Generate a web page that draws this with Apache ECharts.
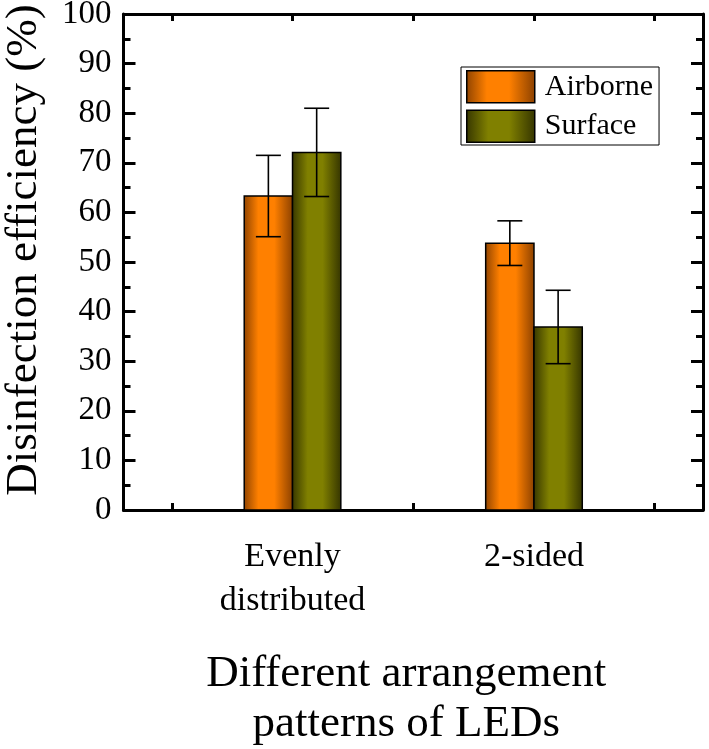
<!DOCTYPE html>
<html><head><meta charset="utf-8">
<script src="https://cdn.jsdelivr.net/npm/echarts@6/dist/echarts.min.js"></script>
<style>html,body{margin:0;padding:0;background:#fff}#c{width:709px;height:749px}</style>
</head><body><div id="c"></div>
<script>
// ---- data ----
const categories = ['Evenly\ndistributed', '2-sided'];
const categoryPositions = [1, 2];
const seriesNames = ['Airborne', 'Surface'];
const airborneValues = [63.3, 53.8];
const airborneErrors = [8.2, 4.5];
const surfaceValues = [72.1, 36.9];
const surfaceErrors = [8.9, 7.4];
const xTickValues = [0.5, 1, 1.5, 2, 2.5];
const yAxisTitle = 'Disinfection efficiency (%)';
const xAxisTitle = 'Different arrangement\npatterns of LEDs';

const FONT = 'Liberation Serif';
const orangeGrad = new echarts.graphic.LinearGradient(0, 0, 1, 0, [
  {offset: 0, color: '#8f4300'}, {offset: 0.3, color: '#ff8000'},
  {offset: 0.62, color: '#ff8000'}, {offset: 1, color: '#8a4000'}]);
const greenGrad = new echarts.graphic.LinearGradient(0, 0, 1, 0, [
  {offset: 0, color: '#363600'}, {offset: 0.32, color: '#808000'},
  {offset: 0.62, color: '#808000'}, {offset: 1, color: '#343400'}]);

function makeRender(offset, grad) {
  return function (params, api) {
    const x = api.value(0) + offset, y = api.value(1), e = api.value(2);
    const p0 = api.coord([x - 0.1, 0]);
    const p1 = api.coord([x + 0.1, y]);
    const top = api.coord([x, y + e]);
    const bot = api.coord([x, y - e]);
    const cap = 12.5;
    const ls = {stroke: '#000', lineWidth: 1.6};
    return {type: 'group', children: [
      {type: 'rect', shape: {x: p0[0], y: p1[1], width: p1[0] - p0[0], height: p0[1] - p1[1]},
       style: {fill: grad, stroke: '#000', lineWidth: 1.5}},
      {type: 'line', shape: {x1: top[0], y1: top[1], x2: bot[0], y2: bot[1]}, style: ls},
      {type: 'line', shape: {x1: top[0] - cap, y1: top[1], x2: top[0] + cap, y2: top[1]}, style: ls},
      {type: 'line', shape: {x1: bot[0] - cap, y1: bot[1], x2: bot[0] + cap, y2: bot[1]}, style: ls}
    ]};
  };
}

const axisLine = {show: true, onZero: false, lineStyle: {color: '#000', width: 3}};
const chart = echarts.init(document.getElementById('c'), null, {renderer: 'canvas'});
chart.setOption({
  animation: false,
  backgroundColor: '#fff',
  grid: {left: 123.5, right: 6, top: 14, bottom: 239, containLabel: false, outerBoundsMode: 'none'},
  legend: {
    orient: 'vertical', left: 461, top: 67,
    padding: [3, 6, 2, 5], itemGap: 6, itemWidth: 68, itemHeight: 32,
    borderColor: '#000', borderWidth: 1,
    textStyle: {fontFamily: FONT, fontSize: 30, color: '#000', padding: [0, 0, 0, 5]},
    data: [
      {name: seriesNames[0], icon: 'rect', itemStyle: {color: orangeGrad, borderColor: '#000', borderWidth: 1.5}},
      {name: seriesNames[1], icon: 'rect', itemStyle: {color: greenGrad, borderColor: '#000', borderWidth: 1.5}}
    ]
  },
  xAxis: [{
    type: 'value', min: 0.3, max: 2.7, position: 'bottom',
    axisLine: axisLine, splitLine: {show: false},
    axisTick: {show: true, inside: true, length: 7, lineStyle: {color: '#000', width: 3}, customValues: xTickValues},
    axisLabel: {customValues: categoryPositions, margin: 25, fontFamily: FONT, fontSize: 34, color: '#000', lineHeight: 44,
      formatter: function (v) { const i = categoryPositions.indexOf(v); return i >= 0 ? categories[i] : ''; }},
    name: xAxisTitle, nameLocation: 'middle', nameGap: 139, nameMoveOverlap: false,
    nameTextStyle: {fontFamily: FONT, fontSize: 45, color: '#000', lineHeight: 50, verticalAlign: 'top', padding: [0, 14, 0, 0]}
  }, {
    type: 'value', min: 0.3, max: 2.7, position: 'top',
    axisLine: axisLine, splitLine: {show: false},
    axisTick: {show: true, inside: true, length: 7, lineStyle: {color: '#000', width: 3}, customValues: xTickValues},
    axisLabel: {show: false}
  }],
  yAxis: [{
    type: 'value', min: 0, max: 100, interval: 10, position: 'left',
    axisLine: axisLine, splitLine: {show: false},
    axisTick: {show: true, inside: true, length: 12, lineStyle: {color: '#000', width: 3}},
    minorTick: {show: true, splitNumber: 2, length: 7, lineStyle: {color: '#000', width: 3}},
    axisLabel: {margin: 12, fontFamily: FONT, fontSize: 33, color: '#000'},
    name: yAxisTitle, nameLocation: 'middle', nameGap: 77, nameMoveOverlap: false,
    nameTextStyle: {fontFamily: FONT, fontSize: 45, color: '#000', padding: [0, 0, 0, 24]}
  }, {
    type: 'value', min: 0, max: 100, interval: 10, position: 'right',
    axisLine: axisLine, splitLine: {show: false},
    axisTick: {show: true, inside: true, length: 12, lineStyle: {color: '#000', width: 3}},
    minorTick: {show: true, splitNumber: 2, length: 7, lineStyle: {color: '#000', width: 3}},
    axisLabel: {show: false}
  }],
  series: [{
    name: seriesNames[0], type: 'custom', xAxisIndex: 0, yAxisIndex: 0,
    itemStyle: {color: orangeGrad, borderColor: '#000'},
    renderItem: makeRender(-0.1, orangeGrad),
    encode: {x: 0, y: 1},
    data: categoryPositions.map((p, i) => [p, airborneValues[i], airborneErrors[i]])
  }, {
    name: seriesNames[1], type: 'custom', xAxisIndex: 0, yAxisIndex: 0,
    itemStyle: {color: greenGrad, borderColor: '#000'},
    renderItem: makeRender(0.1, greenGrad),
    encode: {x: 0, y: 1},
    data: categoryPositions.map((p, i) => [p, surfaceValues[i], surfaceErrors[i]])
  }]
});
</script>
</body></html>
